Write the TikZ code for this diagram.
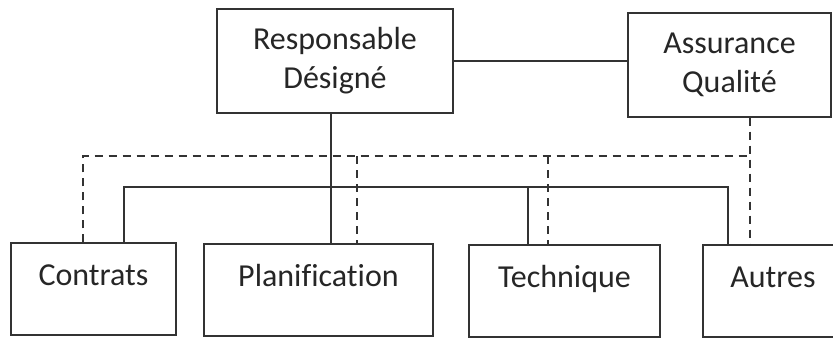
\documentclass[tikz,border=0pt]{standalone}
\usepackage{fontspec}
\setmainfont{Carlito}[Ligatures=NoCommon]
\begin{document}
\begin{tikzpicture}[x=1pt,y=-1pt,
  every node/.style={font=\fontsize{32}{39}\selectfont, text=black!85},
  topbox/.style={draw=black!80, line width=1.4pt, align=center, inner sep=0pt},
  botbox/.style={draw=black!80, line width=1.4pt, inner sep=0pt, text height=42pt, text depth=50pt, anchor=base},
  solidline/.style={draw=black!80, line width=1.4pt},
  dashline/.style={draw=black!80, line width=1.5pt, dash pattern=on 8pt off 6pt}]
\useasboundingbox (0,0) rectangle (833,340);
% top boxes
\node[topbox, minimum width=236pt, minimum height=104pt] (resp) at (335,61) {Responsable\\Désigné};
\node[topbox, minimum width=203pt, minimum height=104pt] (qa) at (729.5,65) {Assurance\\Qualité};
% bottom boxes
\node[botbox, minimum width=165pt] (contr) at (93.5,285) {Contrats};
\node[botbox, minimum width=229pt] (plan) at (318.5,286) {Planification};
\node[botbox, minimum width=191pt] (tech) at (564.5,287) {Technique};
\node[botbox, minimum width=140pt] (autr) at (773,287) {Autres};
% x positions
\coordinate (xa) at (124,187);
\coordinate (xr) at (331,0);
\coordinate (xt) at (528,187);
\coordinate (xo) at (728,187);
\coordinate (da) at (83,156);
\coordinate (dp) at (357,156);
\coordinate (dt) at (548,156);
\coordinate (dq) at (750,156);
% solid connectors
\draw[solidline] (resp.east) -- (resp.east -| qa.west);
\draw[solidline] (resp.south -| xr) -- (plan.north -| xr);
\draw[solidline] (contr.north -| xa) -- (xa) -- (xo) -- (autr.north -| xo);
\draw[solidline] (xt) -- (tech.north -| xt);
% dashed connectors
\draw[dashline] (contr.north -| da) -- (da) -- (dq);
\draw[dashline] (qa.south -| dq) -- (autr.north -| dq);
\draw[dashline] (dp) -- (plan.north -| dp);
\draw[dashline] (dt) -- (tech.north -| dt);
\end{tikzpicture}
\end{document}
